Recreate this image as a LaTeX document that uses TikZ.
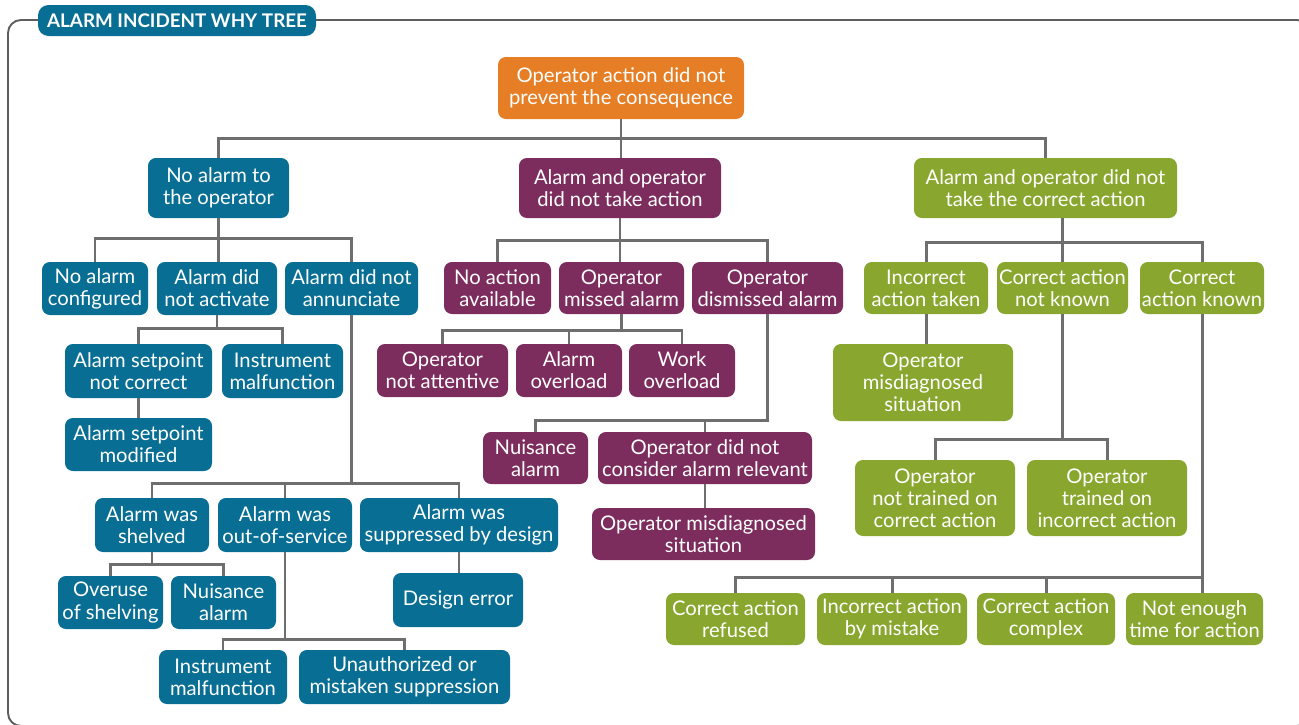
\documentclass[tikz,border=0pt]{standalone}
\usepackage{fontspec}
\setmainfont{Lato}
\definecolor{cteal}{HTML}{096E94}
\definecolor{cplum}{HTML}{7D2D5D}
\definecolor{cgreen}{HTML}{89A72F}
\definecolor{corange}{HTML}{E67E25}
\definecolor{cline}{HTML}{6E6E6E}
\definecolor{cframe}{HTML}{5E5E5E}
% box from corner (x1,y1) to (x2,y2), in pixel units
\newcommand\wbox[7]{\node[#2, minimum width={(#5-#3)*0.02cm}, minimum height={(#6-#4)*0.02cm}] (#1) at ({(#3+#5)/2},{(#4+#6)/2+1}) {#7};}
\begin{document}
\begin{tikzpicture}[x=0.02cm,y=-0.02cm,
  box/.style={draw=none, rounded corners=4.5pt, text=white, align=center, inner sep=0pt,
    font=\fontsize{11.5}{12.6}\selectfont},
  tealbox/.style={box, fill=cteal},
  plumbox/.style={box, fill=cplum},
  greenbox/.style={box, fill=cgreen},
  orangebox/.style={box, fill=corange},
  conn/.style={draw=cline, line width=1.7pt},
  frameline/.style={draw=cframe, line width=1.1pt}]
\useasboundingbox (0,0) rectangle (1299,724);
\begin{scope}
  \clip (0,0) rectangle (1299,724);
  \draw[frameline, rounded corners=0.26cm] (8,20) rectangle (1310,726);
\end{scope}

% title
\node[box, fill=cteal, rounded corners=6pt, font=\fontsize{10.7}{12}\selectfont\bfseries,
  minimum width={278*0.02cm}, minimum height={31*0.02cm}] (title) at (177,20.5) {ALARM INCIDENT WHY TREE};

% root and first level
\wbox{r}{orangebox}{498}{56}{744}{118}{Operator action did not\\prevent the consequence}
\wbox{t1}{tealbox}{148}{157}{289}{217}{No alarm to\\the operator}
\wbox{p1}{plumbox}{519}{157}{721}{217}{Alarm and operator\\did not take action}
\wbox{g1}{greenbox}{914}{157}{1177}{217}{Alarm and operator did not\\take the correct action}

% no alarm branch
\wbox{t2a}{tealbox}{42}{261}{148}{314}{No alarm\\configured}
\wbox{t2b}{tealbox}{157}{261}{277}{314}{Alarm did\\not activate}
\wbox{t2c}{tealbox}{285}{261}{418}{314}{Alarm did not\\annunciate}
\wbox{t3a}{tealbox}{65}{343}{212}{397}{Alarm setpoint\\not correct}
\wbox{t3b}{tealbox}{222}{343}{343}{397}{Instrument\\malfunction}
\wbox{t4a}{tealbox}{65}{417}{212}{470}{Alarm setpoint\\modified}
\wbox{t5a}{tealbox}{95}{497}{209}{551}{Alarm was\\shelved}
\wbox{t5b}{tealbox}{218}{497}{352}{551}{Alarm was\\out-of-service}
\wbox{t5c}{tealbox}{360}{497}{558}{551}{Alarm was\\suppressed by design}
\wbox{t6a}{tealbox}{58}{575}{163}{628}{Overuse\\of shelving}
\wbox{t6b}{tealbox}{171}{575}{276}{628}{Nuisance\\alarm}
\wbox{t6c}{tealbox}{393}{572}{523}{626}{Design error}
\wbox{t7a}{tealbox}{159}{649}{287}{703}{Instrument\\malfunction}
\wbox{t7b}{tealbox}{299}{649}{510}{703}{Unauthorized or\\mistaken suppression}

% no action branch
\wbox{p2a}{plumbox}{444}{261}{551}{313}{No action\\available}
\wbox{p2b}{plumbox}{559}{261}{684}{313}{Operator\\missed alarm}
\wbox{p2c}{plumbox}{692}{261}{843}{313}{Operator\\dismissed alarm}
\wbox{p3a}{plumbox}{377}{343}{508}{396}{Operator\\not attentive}
\wbox{p3b}{plumbox}{516}{343}{622}{396}{Alarm\\overload}
\wbox{p3c}{plumbox}{629}{343}{735}{396}{Work\\overload}
\wbox{p4a}{plumbox}{483}{431}{588}{483}{Nuisance\\alarm}
\wbox{p4b}{plumbox}{598}{431}{812}{483}{Operator did not\\consider alarm relevant}
\wbox{p5}{plumbox}{592}{507}{815}{559}{Operator misdiagnosed\\situation}

% wrong action branch
\wbox{g2a}{greenbox}{864}{261}{988}{313}{Incorrect\\action taken}
\wbox{g2b}{greenbox}{997}{261}{1128}{313}{Correct action\\not known}
\wbox{g2c}{greenbox}{1140}{261}{1264}{313}{Correct\\action known}
\wbox{g3}{greenbox}{833}{343}{1013}{420}{Operator\\misdiagnosed\\situation}
\wbox{g4a}{greenbox}{855}{459}{1015}{535}{Operator\\not trained on\\correct action}
\wbox{g4b}{greenbox}{1027}{459}{1187}{535}{Operator\\trained on\\incorrect action}
\wbox{g5a}{greenbox}{666}{592}{805}{644}{Correct action\\refused}
\wbox{g5b}{greenbox}{817}{592}{967}{644}{Incorrect action\\by mistake}
\wbox{g5c}{greenbox}{977}{592}{1115}{644}{Correct action\\complex}
\wbox{g5d}{greenbox}{1126}{592}{1263}{644}{Not enough\\time for action}

% connectors
\draw[conn] (r.south) -- ++(0,19) -| (t1.north);
\draw[conn] (r.south) -- ++(0,19) -| (g1.north);
\draw[conn] (r.south) -- (r.south |- p1.north);

\draw[conn] (t1.south) -- ++(0,20) -| (t2a.north);
\draw[conn] (t1.south) -- ++(0,20) -| (t2c.north);
\draw[conn] (t1.south) -- (t1.south |- t2b.north);
\draw[conn] (t2b.south) -- ++(0,13) -| (t3a.north);
\draw[conn] (t2b.south) -- ++(0,13) -| (t3b.north);
\draw[conn] (t3a.south) -- (t3a.south |- t4a.north);
\draw[conn] (t2c.south) -- ++(0,168) -| (t5a.north);
\draw[conn] (t2c.south) -- ++(0,168) -| (t5b.north);
\draw[conn] (t2c.south) -- ++(0,168) -| (t5c.north);
\draw[conn] (t5a.south) -- ++(0,12) -| (t6a.north);
\draw[conn] (t5a.south) -- ++(0,12) -| (t6b.north);
\draw[conn] (t5c.south) -- (t5c.south |- t6c.north);
\draw[conn] (t5b.south) -- ++(0,87) -| (t7a.north);
\draw[conn] (t5b.south) -- ++(0,87) -| (t7b.north);

\draw[conn] (p1.south) -- ++(0,22) -| (p2a.north);
\draw[conn] (p1.south) -- ++(0,22) -| (p2c.north);
\draw[conn] (p1.south) -- (p1.south |- p2b.north);
\draw[conn] (p2b.south) -- ++(0,16) -| (p3a.north);
\draw[conn] (p2b.south) -- ++(0,16) -| (p3b.north);
\draw[conn] (p2b.south) -- ++(0,16) -| (p3c.north);
\draw[conn] (p2c.south) -- ++(0,106) -| (p4a.north);
\draw[conn] (p2c.south) -- ++(0,106) -| (p4b.north);
\draw[conn] (p4b.south) -- (p4b.south |- p5.north);

\draw[conn] (g2b.north |- g1.south) -- ++(0,24) -| (g2a.north);
\draw[conn] (g2b.north |- g1.south) -- ++(0,24) -| (g2c.north);
\draw[conn] (g2b.north |- g1.south) -- (g2b.north);
\draw[conn] (g2a.south) -- (g2a.south |- g3.north);
\draw[conn] (g2b.south) -- ++(0,125) -| (g4a.north);
\draw[conn] (g2b.south) -- ++(0,125) -| (g4b.north);
\draw[conn] (g2c.south) -- ++(0,263) -| (g5a.north);
\draw[conn] (g2c.south) -- ++(0,263) -| (g5b.north);
\draw[conn] (g2c.south) -- ++(0,263) -| (g5c.north);
\draw[conn] (g2c.south) -- (g2c.south |- g5d.north);
\end{tikzpicture}
\end{document}
